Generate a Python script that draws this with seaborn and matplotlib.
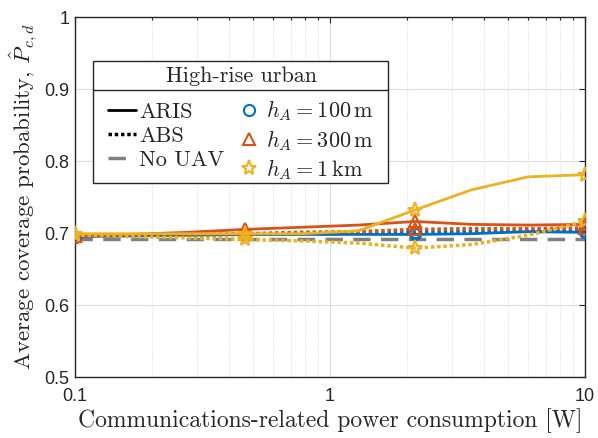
import numpy as np
import pandas as pd
import matplotlib
matplotlib.use("Agg")
import matplotlib.pyplot as plt
import seaborn as sns
from matplotlib.lines import Line2D
from matplotlib.patches import Rectangle

# power values (W), logspaced 0.1..10, markers on every third point
power = [0.1, 0.1668, 0.2783, 0.4642, 0.7743, 1.2915, 2.1544, 3.5938, 5.9948, 10.0]

aris_100 = [0.695, 0.696, 0.697, 0.698, 0.698, 0.698, 0.698, 0.699, 0.702, 0.701]
abs_100 = [0.695, 0.696, 0.697, 0.698, 0.699, 0.700, 0.701, 0.702, 0.703, 0.703]
aris_300 = [0.696, 0.698, 0.701, 0.705, 0.708, 0.711, 0.716, 0.712, 0.711, 0.712]
abs_300 = [0.696, 0.697, 0.698, 0.699, 0.701, 0.702, 0.705, 0.706, 0.706, 0.707]
aris_1k = [0.699, 0.699, 0.699, 0.699, 0.699, 0.703, 0.732, 0.760, 0.778, 0.781]
abs_1k = [0.697, 0.695, 0.693, 0.691, 0.689, 0.686, 0.679, 0.684, 0.697, 0.716]
no_uav = [0.691] * 10

heights = ["100", "300", "1k"]
colors = {"100": "#0072BD", "300": "#D95319", "1k": "#EDB120"}
markers = {"100": "o", "300": "^", "1k": "*"}
msizes = {"100": 8, "300": 9, "1k": 11}
height_labels = [r"$h_A = 100\,\mathrm{m}$", r"$h_A = 300\,\mathrm{m}$", r"$h_A = 1\,\mathrm{km}$"]

sns.set_style("white")
plt.rcParams["font.family"] = "serif"
plt.rcParams["font.serif"] = ["cmr10", "DejaVu Serif"]
plt.rcParams["mathtext.fontset"] = "cm"
plt.rcParams["axes.unicode_minus"] = False
plt.rcParams["axes.formatter.use_mathtext"] = True

fig = plt.figure(figsize=(5.98, 4.38), dpi=100)
ax = fig.add_axes([75 / 598, 1 - 377 / 438, 510 / 598, 360 / 438])

dotted = (0, (1, 0.8))
dashed = (0, (5, 3))
series = [
    (aris_100, "100", "-"), (abs_100, "100", dotted),
    (aris_300, "300", "-"), (abs_300, "300", dotted),
    (aris_1k, "1k", "-"), (abs_1k, "1k", dotted),
]

sns.lineplot(x=power, y=no_uav, ax=ax, color="#808080", linestyle=dashed,
             linewidth=2.5, zorder=2)
for vals, h, ls in series:
    sns.lineplot(x=power, y=vals, ax=ax, color=colors[h], linestyle=ls,
                 linewidth=2 if ls == "-" else 2.5,
                 marker=markers[h], markersize=msizes[h], markerfacecolor="none",
                 markeredgecolor=colors[h], markeredgewidth=1.5, markevery=3,
                 dash_capstyle="butt", zorder=3)

ax.set_xscale("log")
ax.set_xlim(0.1, 10)
ax.set_ylim(0.5, 1)
ax.set_xticks([0.1, 1, 10])
ax.set_xticklabels(["0.1", "1", "10"], family="Liberation Sans", fontsize=13)
ax.set_yticks([0.5, 0.6, 0.7, 0.8, 0.9, 1.0])
ax.set_yticklabels(["0.5", "0.6", "0.7", "0.8", "0.9", "1"], family="Liberation Sans", fontsize=13)
ax.tick_params(which="both", direction="in", top=True, right=True, length=4, width=0.8)
ax.tick_params(axis="x", which="major", pad=8)
ax.tick_params(axis="y", which="major", pad=4)
ax.tick_params(which="minor", length=2.5)
ax.grid(True, which="major", color="#dfdfdf", linewidth=0.8)
ax.grid(True, which="minor", axis="x", color="#e4e4e4", linewidth=0.8, linestyle=(0, (1, 1)))
ax.set_axisbelow(True)
for s in ax.spines.values():
    s.set_color("#262626")
    s.set_linewidth(1)

ax.set_xlabel("Communications-related power consumption [W]", fontsize=17, labelpad=2)
ax.set_ylabel(r"Average coverage probability, $\hat{P}_{c,d}$", fontsize=16.5, labelpad=4)

handles = [
    Line2D([], [], color="black", linestyle="-", linewidth=2),
    Line2D([], [], color="black", linestyle=dotted, linewidth=2.5, dash_capstyle="butt"),
    Line2D([], [], color="#808080", linestyle=dashed, linewidth=2.5),
]
for h in heights:
    handles.append(Line2D([], [], linestyle="none", marker=markers[h], markersize=msizes[h],
                          markerfacecolor="none", markeredgecolor=colors[h], markeredgewidth=1.5))
labels = ["ARIS", "ABS", "No UAV"] + height_labels

leg = ax.legend(handles, labels, loc="upper left", bbox_to_anchor=(0.0647, 0.862),
                borderaxespad=0, ncol=2, title="High-rise urban", fontsize=16,
                title_fontsize=16, frameon=False,
                handlelength=1.25, handletextpad=0.15, columnspacing=0.5,
                labelspacing=0.2, borderpad=0)
leg._legend_box.sep = 9
leg.set_zorder(10)

# boxed legend with a rule under the title
fig.canvas.draw()
lb = leg.get_window_extent()
tb = leg.get_title().get_window_extent()
inv = fig.transFigure.inverted()
(rx0, ry0) = inv.transform((lb.x0 - 15, lb.y0 - 1))
(rx1, ry1) = inv.transform((lb.x1 + 14, lb.y1 + 6))
fig.add_artist(Rectangle((rx0, ry0), rx1 - rx0, ry1 - ry0, transform=fig.transFigure,
                         facecolor="white", edgecolor="#262626", linewidth=1, zorder=4))
(_, ys) = inv.transform((0, tb.y0 - 4))
fig.add_artist(Line2D([rx0, rx1], [ys, ys], color="#262626", linewidth=1,
                      transform=fig.transFigure, zorder=5))
leg.remove()
fig.add_artist(leg)

fig.savefig("out.png", dpi=100)
